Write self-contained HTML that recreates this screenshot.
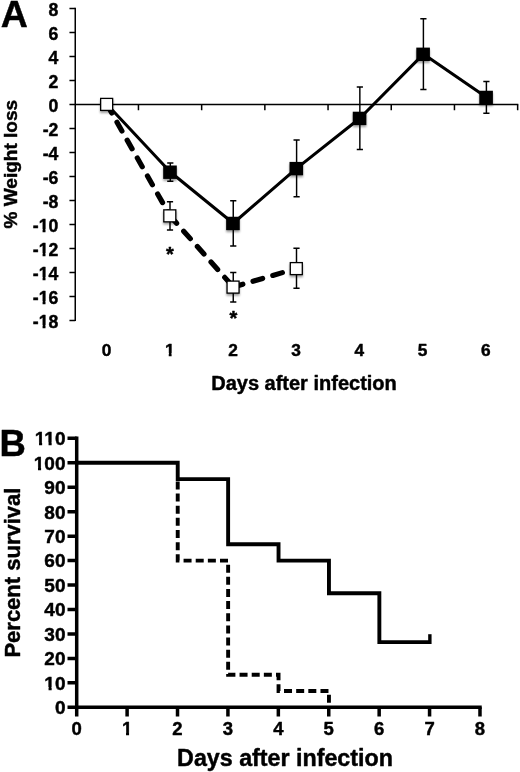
<!DOCTYPE html>
<html lang="en"><head><meta charset="utf-8"><title>Weight loss and survival after infection</title>
<style>
html,body{margin:0;padding:0;background:#fff;}
body{width:520px;height:772px;overflow:hidden;}
svg{display:block;filter:blur(0.4px);}
text{font-family:"Liberation Sans", Arial, Helvetica, sans-serif;font-weight:700;fill:#000;stroke:#000;stroke-width:0.45px;stroke-linejoin:round;}
</style></head><body>
<svg width="520" height="772" viewBox="0 0 520 772">
<defs><filter id="sh" x="-40%" y="-40%" width="180%" height="200%"><feGaussianBlur in="SourceAlpha" stdDeviation="0.9"/><feOffset dx="-0.5" dy="2" result="b"/><feComponentTransfer><feFuncA type="linear" slope="0.38"/></feComponentTransfer><feMerge><feMergeNode/><feMergeNode in="SourceGraphic"/></feMerge></filter></defs>
<rect width="520" height="772" fill="#fff"/>
<g id="panelA">
<text x="0.8" y="27.2" font-size="37.5">A</text>
<g stroke="#000" stroke-width="1.5" fill="none">
<path d="M75.25 7.750000000000005V321.04999999999995"/>
<path d="M75.25 104.4H518.3"/>
<path d="M69.45 8.40H75.25M69.45 32.40H75.25M69.45 56.40H75.25M69.45 80.40H75.25M69.45 104.40H75.25M69.45 128.40H75.25M69.45 152.40H75.25M69.45 176.40H75.25M69.45 200.40H75.25M69.45 224.40H75.25M69.45 248.40H75.25M69.45 272.40H75.25M69.45 296.40H75.25M69.45 320.40H75.25"/>
<path d="M138.45 104.4v5.8M201.65 104.4v5.8M264.85 104.4v5.8M328.05 104.4v5.8M391.25 104.4v5.8M454.45 104.4v5.8M517.65 104.4v5.8"/>
</g>
<g font-size="17.6" text-anchor="end">
<text x="58.3" y="15.70">8</text>
<text x="58.3" y="39.70">6</text>
<text x="58.3" y="63.70">4</text>
<text x="58.3" y="87.70">2</text>
<text x="58.3" y="111.70">0</text>
<text x="58.3" y="135.70">-2</text>
<text x="58.3" y="159.70">-4</text>
<text x="58.3" y="183.70">-6</text>
<text x="58.3" y="207.70">-8</text>
<text x="58.3" y="231.70">-10</text><rect x="38.63" y="229.20" width="3.95" height="4.20" fill="#fff"/><rect x="45.50" y="229.20" width="3.43" height="4.20" fill="#fff"/>
<text x="58.3" y="255.70">-12</text><rect x="38.63" y="253.20" width="3.95" height="4.20" fill="#fff"/><rect x="45.50" y="253.20" width="3.43" height="4.20" fill="#fff"/>
<text x="58.3" y="279.70">-14</text><rect x="38.63" y="277.20" width="3.95" height="4.20" fill="#fff"/><rect x="45.50" y="277.20" width="3.43" height="4.20" fill="#fff"/>
<text x="58.3" y="303.70">-16</text><rect x="38.63" y="301.20" width="3.95" height="4.20" fill="#fff"/><rect x="45.50" y="301.20" width="3.43" height="4.20" fill="#fff"/>
<text x="58.3" y="327.70">-18</text><rect x="38.63" y="325.20" width="3.95" height="4.20" fill="#fff"/><rect x="45.50" y="325.20" width="3.43" height="4.20" fill="#fff"/>
</g>
<g font-size="17.3" text-anchor="middle">
<text x="106.55" y="355.5">0</text>
<text x="169.75" y="355.5">1</text><rect x="164.83" y="353.03" width="3.90" height="4.17" fill="#fff"/><rect x="171.60" y="353.03" width="3.38" height="4.17" fill="#fff"/>
<text x="232.95" y="355.5">2</text>
<text x="296.15" y="355.5">3</text>
<text x="359.35" y="355.5">4</text>
<text x="422.55" y="355.5">5</text>
<text x="485.75" y="355.5">6</text>
</g>
<text x="304" y="390" font-size="20" text-anchor="middle">Days after infection</text>
<text transform="translate(17.4 164.2) rotate(-90)" font-size="19" text-anchor="middle">% Weight loss</text>
<polyline points="106.85,104.3 170.3,172 233.25,223.25 296.6,168.4 359.85,118.2 423.4,54.1 486.4,97.25" fill="none" stroke="#000" stroke-width="3.05" stroke-linejoin="round"/>
<g fill="none" stroke="#000" stroke-width="5.2" stroke-linecap="round" stroke-dasharray="10 10.6">
<path d="M106.85 104.3L170 215.75"/>
<path d="M170 215.75L233.25 287"/>
<path d="M233.25 287L296.5 268.5"/>
</g>
<path d="M170.3 163V181.25M167.20000000000002 163h6.2M167.20000000000002 181.25h6.2M233.25 200.75V246M230.15 200.75h6.2M230.15 246h6.2M296.6 140V196.75M293.5 140h6.2M293.5 196.75h6.2M359.85 86.9V149.5M356.75 86.9h6.2M356.75 149.5h6.2M423.4 18.75V89.5M420.29999999999995 18.75h6.2M420.29999999999995 89.5h6.2M486.4 81.5V113.25M483.29999999999995 81.5h6.2M483.29999999999995 113.25h6.2M170 201.75V230M166.9 201.75h6.2M166.9 230h6.2M233.25 272.5V302M230.15 272.5h6.2M230.15 302h6.2M296.5 248.25V288.25M293.4 248.25h6.2M293.4 288.25h6.2" stroke="#000" stroke-width="1.45" fill="none"/>
<g filter="url(#sh)">
<rect x="163.20" y="165.50" width="13.6" height="13.4" fill="#000"/>
<rect x="226.15" y="216.75" width="13.6" height="13.4" fill="#000"/>
<rect x="289.50" y="161.90" width="13.6" height="13.4" fill="#000"/>
<rect x="352.75" y="111.70" width="13.6" height="13.4" fill="#000"/>
<rect x="416.30" y="47.60" width="13.6" height="13.4" fill="#000"/>
<rect x="479.30" y="90.75" width="13.6" height="13.4" fill="#000"/>
<rect x="100.65" y="98.40" width="12" height="12" fill="#fff" stroke="#000" stroke-width="1.3"/>
<rect x="163.80" y="209.85" width="12" height="12" fill="#fff" stroke="#000" stroke-width="1.3"/>
<rect x="227.05" y="281.10" width="12" height="12" fill="#fff" stroke="#000" stroke-width="1.3"/>
<rect x="290.30" y="262.60" width="12" height="12" fill="#fff" stroke="#000" stroke-width="1.3"/>
</g>
<text x="169.9" y="261" font-size="20" text-anchor="middle">*</text>
<text x="233.4" y="324.8" font-size="20" text-anchor="middle">*</text>
</g>
<g id="panelB">
<text x="-0.6" y="455.9" font-size="36.5">B</text>
<g stroke="#000" stroke-width="3.5" fill="none">
<path d="M76.7 436.60V709.05"/>
<path d="M74.95 707.3H481.73"/>
<path d="M67.5 707.30H76.7M67.5 682.85H76.7M67.5 658.40H76.7M67.5 633.95H76.7M67.5 609.50H76.7M67.5 585.05H76.7M67.5 560.60H76.7M67.5 536.15H76.7M67.5 511.70H76.7M67.5 487.25H76.7M67.5 462.80H76.7M67.5 438.35H76.7"/>
<path d="M76.70 707.3v9.2M127.11 707.3v9.2M177.52 707.3v9.2M227.93 707.3v9.2M278.34 707.3v9.2M328.75 707.3v9.2M379.16 707.3v9.2M429.57 707.3v9.2M479.98 707.3v9.2"/>
</g>
<g font-size="19" text-anchor="end">
<text x="65.5" y="714.10">0</text>
<text x="65.5" y="689.65">10</text><rect x="44.36" y="687.01" width="4.19" height="4.34" fill="#fff"/><rect x="51.66" y="687.01" width="3.65" height="4.34" fill="#fff"/>
<text x="65.5" y="665.20">20</text>
<text x="65.5" y="640.75">30</text>
<text x="65.5" y="616.30">40</text>
<text x="65.5" y="591.85">50</text>
<text x="65.5" y="567.40">60</text>
<text x="65.5" y="542.95">70</text>
<text x="65.5" y="518.50">80</text>
<text x="65.5" y="494.05">90</text>
<text x="65.5" y="469.60">100</text><rect x="33.80" y="466.96" width="4.19" height="4.34" fill="#fff"/><rect x="41.09" y="466.96" width="3.65" height="4.34" fill="#fff"/>
<text x="65.5" y="445.15">110</text><rect x="34.84" y="442.51" width="4.19" height="4.34" fill="#fff"/><rect x="42.14" y="442.51" width="3.65" height="4.34" fill="#fff"/><rect x="44.36" y="442.51" width="4.19" height="4.34" fill="#fff"/><rect x="51.66" y="442.51" width="3.65" height="4.34" fill="#fff"/>
</g>
<g font-size="18.5" text-anchor="middle">
<text x="76.70" y="735.3">0</text>
<text x="127.11" y="735.3">1</text><rect x="121.93" y="732.71" width="4.10" height="4.29" fill="#fff"/><rect x="129.07" y="732.71" width="3.57" height="4.29" fill="#fff"/>
<text x="177.52" y="735.3">2</text>
<text x="227.93" y="735.3">3</text>
<text x="278.34" y="735.3">4</text>
<text x="328.75" y="735.3">5</text>
<text x="379.16" y="735.3">6</text>
<text x="429.57" y="735.3">7</text>
<text x="479.98" y="735.3">8</text>
</g>
<text x="285" y="765.8" font-size="23.25" text-anchor="middle">Days after infection</text>
<text transform="translate(19.7 572.6) rotate(-90)" font-size="22" text-anchor="middle">Percent survival</text>
<path d="M177.72 479.11 L177.72 560.60 L228.13 560.60 L228.13 674.71 L278.54 674.71 L278.54 690.99 L328.95 690.99 L328.95 707.30" fill="none" stroke="#000" stroke-width="3.9" stroke-dasharray="8 4.15" stroke-dashoffset="9.87"/>
<path d="M76.70 462.80 L177.72 462.80 L177.72 479.11 L228.13 479.11 L228.13 544.29 L278.54 544.29 L278.54 560.60 L328.95 560.60 L328.95 593.19 L379.36 593.19 L379.36 642.09 L429.77 642.09" fill="none" stroke="#000" stroke-width="3.9" stroke-linejoin="miter"/>
<path d="M429.87 634.2V644" stroke="#000" stroke-width="3.4" fill="none"/>
</g>
</svg></body></html>
